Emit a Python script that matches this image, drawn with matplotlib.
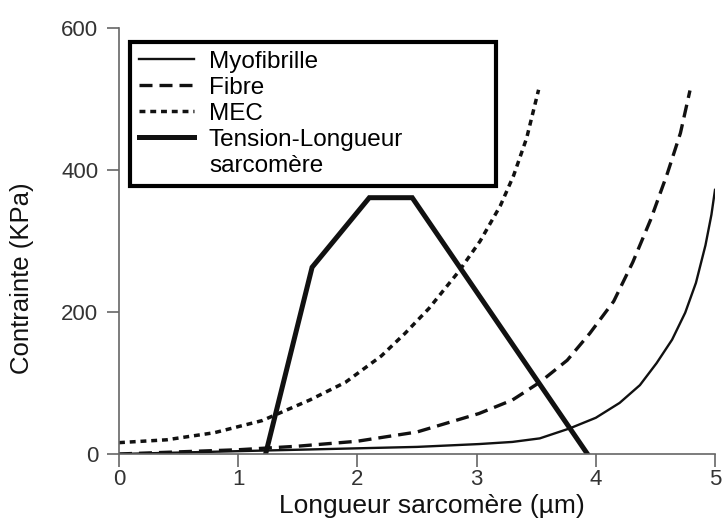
import matplotlib.pyplot as plt

plt.rcParams['font.family'] = ['Liberation Sans', 'DejaVu Sans']

# Myofibrille (thin solid)
myo_x = [0, 0.5, 1.0, 1.5, 2.0, 2.5, 3.02, 3.3, 3.53, 3.78, 4.0, 4.2, 4.37, 4.51, 4.64, 4.75, 4.84, 4.92, 4.97, 5.0]
myo_y = [0, 2, 4, 6, 8, 10, 14, 17, 22, 36, 51, 72, 97, 128, 161, 199, 241, 294, 337, 372]

# Fibre (dashed)
fib_x = [0, 0.5, 1.0, 1.5, 2.0, 2.5, 3.02, 3.3, 3.53, 3.76, 3.95, 4.15, 4.31, 4.46, 4.6, 4.71, 4.79]
fib_y = [0, 3, 6, 11, 18, 31, 57, 76, 101, 132, 170, 215, 270, 330, 395, 452, 512]

# MEC (dotted)
mec_x = [0, 0.4, 0.8, 1.2, 1.6, 1.9, 2.2, 2.4, 2.6, 2.85, 3.03, 3.2, 3.31, 3.42, 3.52]
mec_y = [16, 20, 30, 47, 76, 101, 138, 170, 205, 257, 300, 350, 392, 445, 513]

# Tension-Longueur sarcomere (thick)
tl_x = [1.23, 1.62, 2.10, 2.46, 3.93]
tl_y = [0, 263, 361, 361, 0]

fig = plt.figure(figsize=(7.24, 5.19), dpi=100)
ax = fig.add_axes([119 / 724, 1 - 454 / 519, 596 / 724, 426 / 519])

ax.plot(myo_x, myo_y, color='#111111', lw=1.7, label='Myofibrille')
ax.plot(fib_x, fib_y, color='#111111', lw=2.4, dashes=(3.9, 2.1), label='Fibre')
ax.plot(mec_x, mec_y, color='#111111', lw=2.5, dashes=(1.7, 1.4), label='MEC')
ax.plot(tl_x, tl_y, color='#111111', lw=3.6, solid_joinstyle='miter', label='Tension-Longueur')
ax.plot([], [], color='none', label='sarcomère')

ax.set_xlim(0, 5)
ax.set_ylim(0, 600)
ax.set_xticks([0, 1, 2, 3, 4, 5])
ax.set_yticks([0, 200, 400, 600])

for s in ['top', 'right']:
    ax.spines[s].set_visible(False)
for s in ['left', 'bottom']:
    ax.spines[s].set_color('#666666')
    ax.spines[s].set_linewidth(1.2)

ax.tick_params(direction='out', length=9, width=1.2, color='#666666', labelcolor='#333333')
ax.tick_params(axis='x', pad=2, labelsize=16)
ax.tick_params(axis='y', pad=6, labelsize=16)

ax.set_xlabel('Longueur sarcomère (µm)', fontsize=19, color='#111111')
ax.set_ylabel('Contrainte (KPa)', fontsize=18.5, color='#111111')
ax.xaxis.set_label_coords(0.525, -0.094)
ax.yaxis.set_label_coords(-0.142, 0.413)

leg = ax.legend(loc='upper left', bbox_to_anchor=(130 / 724, 1 - 187 / 519, 366 / 724, 145 / 519),
                bbox_transform=fig.transFigure, mode='expand', borderaxespad=0,
                fontsize=17.5, frameon=True, fancybox=False, framealpha=1,
                edgecolor='black', labelspacing=0.17, borderpad=0.35,
                handlelength=2.3, handletextpad=0.6)
leg.get_frame().set_linewidth(3)
for t in leg.get_texts():
    t.set_color('black')

plt.savefig('out.png', dpi=100)
